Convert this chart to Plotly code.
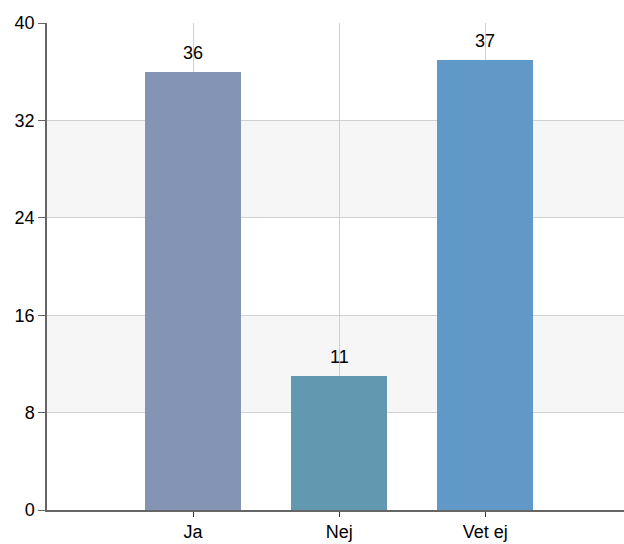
import plotly.graph_objects as go

categories = ["Ja", "Nej", "Vet ej"]
values = [36, 11, 37]
bar_colors = ["#8494b4", "#6399b0", "#6099c8"]
y_ticks = [0, 8, 16, 24, 32, 40]
band_ranges = [(8, 16), (24, 32)]

fig = go.Figure()

fig.add_trace(go.Bar(
    x=categories,
    y=values,
    marker=dict(color=bar_colors, line=dict(width=0)),
    width=0.66,
    hoverinfo="x+y",
))

# gray stripes behind the bars
for lo, hi in band_ranges:
    fig.add_shape(type="rect", xref="paper", yref="y", x0=0, x1=1, y0=lo, y1=hi,
                  fillcolor="#f6f6f6", line=dict(width=0), layer="below")

# value labels above bars
for cat, val in zip(categories, values):
    fig.add_annotation(x=cat, y=val, text=str(val), showarrow=False,
                       yanchor="bottom", yshift=7,
                       font=dict(size=18, color="#000000", family="Liberation Sans, Arial"))

fig.update_layout(
    width=624,
    height=544,
    margin=dict(l=47, r=0, t=23, b=34),
    plot_bgcolor="white",
    paper_bgcolor="white",
    showlegend=False,
    bargap=0,
    font=dict(family="Liberation Sans, Arial", size=18, color="#000000"),
    xaxis=dict(
        type="category",
        range=[-1, 2.95],
        automargin=False,
        showgrid=True,
        gridcolor="#d0d0d0",
        gridwidth=1,
        showline=True,
        linecolor="#666666",
        linewidth=1.5,
        ticks="outside",
        ticklen=5,
        tickcolor="#333333",
        zeroline=False,
    ),
    yaxis=dict(
        range=[0, 40],
        tickvals=y_ticks,
        automargin=False,
        showgrid=True,
        gridcolor="#d0d0d0",
        gridwidth=1,
        showline=True,
        linecolor="#666666",
        linewidth=1.5,
        ticks="outside",
        ticklen=7,
        tickcolor="#666666",
        zeroline=False,
    ),
)

# drop the default 8px body margin so the figure fills the window
fig.write_html("out.html", config={"displayModeBar": False},
               post_script="document.body.style.margin='0px';")
